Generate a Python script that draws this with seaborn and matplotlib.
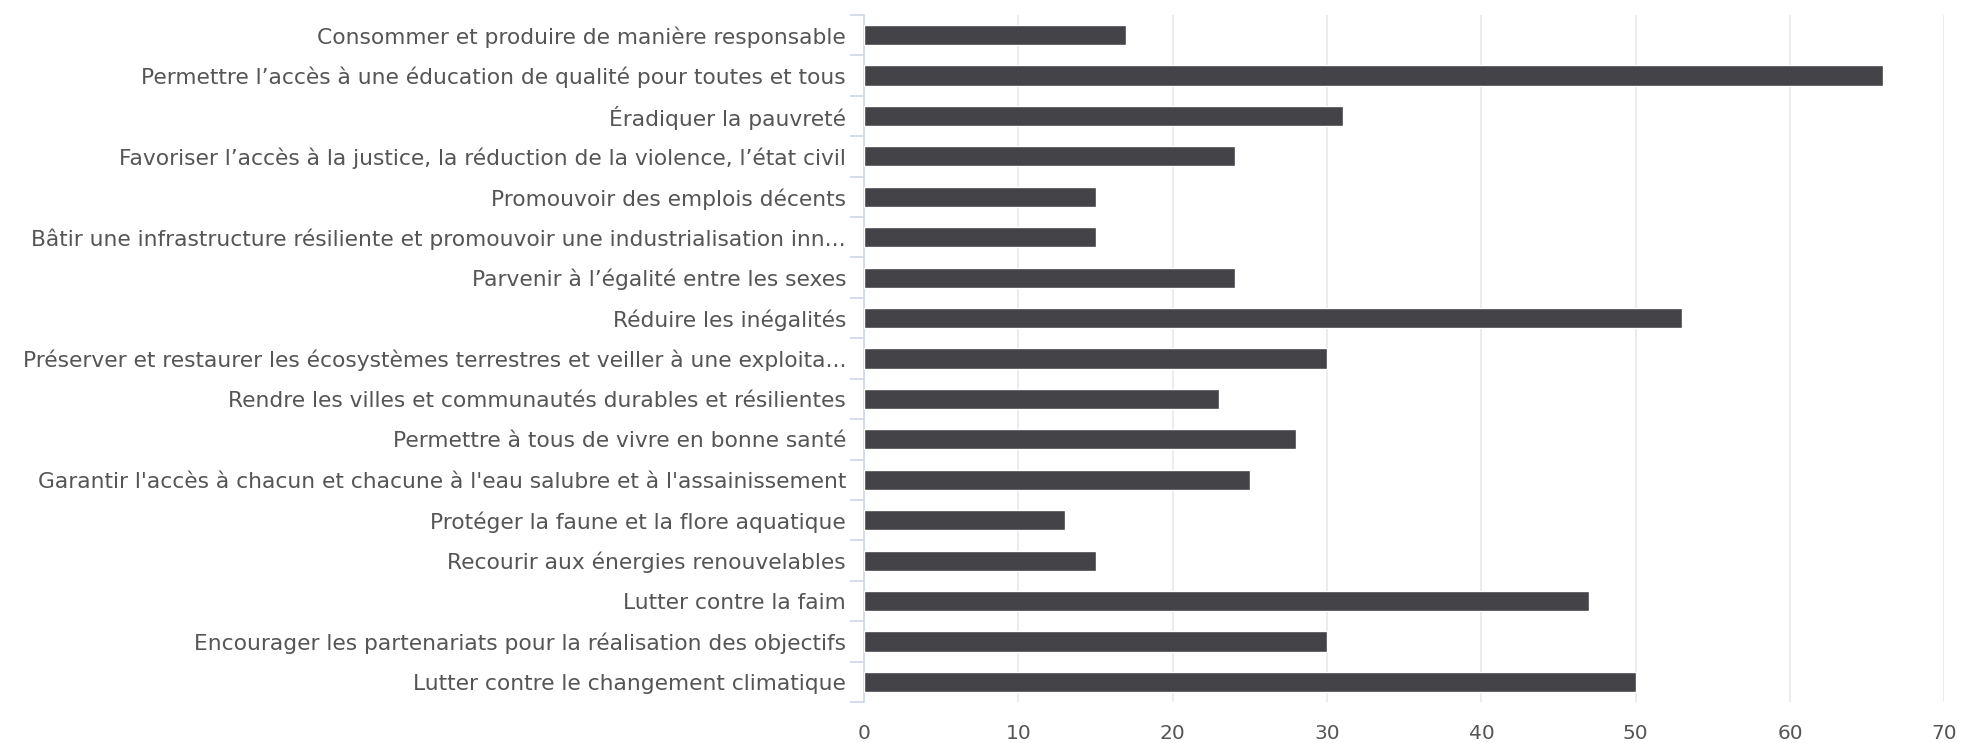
import matplotlib
matplotlib.use("Agg")
import matplotlib.pyplot as plt
import seaborn as sns
import pandas as pd
import numpy as np

# Objectifs de développement durable (labels as shown, truncated ones kept)
objectifs = [
    "Consommer et produire de manière responsable",
    "Permettre l’accès à une éducation de qualité pour toutes et tous",
    "Éradiquer la pauvreté",
    "Favoriser l’accès à la justice, la réduction de la violence, l’état civil",
    "Promouvoir des emplois décents",
    "Bâtir une infrastructure résiliente et promouvoir une industrialisation inn...",
    "Parvenir à l’égalité entre les sexes",
    "Réduire les inégalités",
    "Préserver et restaurer les écosystèmes terrestres et veiller à une exploita...",
    "Rendre les villes et communautés durables et résilientes",
    "Permettre à tous de vivre en bonne santé",
    "Garantir l'accès à chacun et chacune à l'eau salubre et à l'assainissement",
    "Protéger la faune et la flore aquatique",
    "Recourir aux énergies renouvelables",
    "Lutter contre la faim",
    "Encourager les partenariats pour la réalisation des objectifs",
    "Lutter contre le changement climatique",
]
votes = [17, 66, 31, 24, 15, 15, 24, 53, 30, 23, 28, 25, 13, 15, 47, 30, 50]
x_ticks = [0, 10, 20, 30, 40, 50, 60, 70]

df = pd.DataFrame({"objectif": objectifs, "votes": votes})

sns.set_style("white")
plt.rcParams["font.family"] = ["DejaVu Sans"]

fig = plt.figure(figsize=(19.64, 7.43), dpi=100)
ax = fig.add_axes([0.440, 0.055, 0.550, 0.925])

sns.barplot(data=df, x="votes", y="objectif", orient="h", color="#434348",
            saturation=1, width=0.5, ax=ax, zorder=3)

ax.set_xlim(0, 70)
ax.set_ylim(len(objectifs) - 0.5, -0.5)
ax.set_xticks(x_ticks)
ax.grid(axis="x", color="#e9e9ee", linewidth=1.2, zorder=0)
ax.grid(axis="y", visible=False)

for side in ["top", "right", "bottom"]:
    ax.spines[side].set_visible(False)
ax.spines["left"].set_color("#ccd6eb")
ax.spines["left"].set_linewidth(1.2)

# tick marks between categories on the y axis
ax.set_yticks(np.arange(len(objectifs) + 1) - 0.5, minor=True)
ax.tick_params(axis="y", which="minor", left=True, length=10, color="#ccd6eb", width=1.2)
ax.tick_params(axis="y", which="major", length=0, pad=13, labelsize=15.7, labelcolor="#555555")
ax.tick_params(axis="x", length=0, pad=16, labelsize=14.5, labelcolor="#555555")

ax.set_xlabel("")
ax.set_ylabel("")

fig.savefig("out.png", dpi=100)
